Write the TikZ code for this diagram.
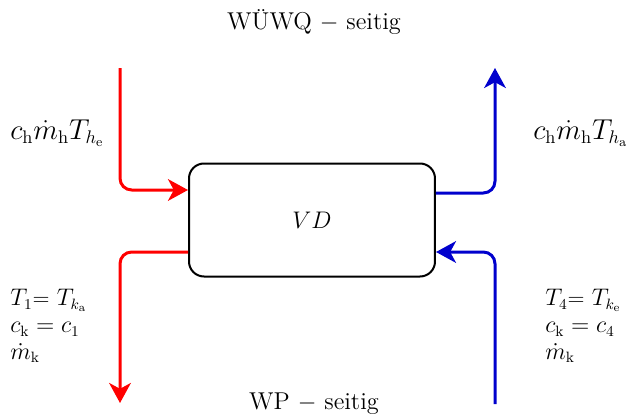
\documentclass[tikz,border=0pt]{standalone}
\usepackage{amsmath,amssymb}
\usepackage{xcolor}
\usepackage{tikz}
\usetikzlibrary{calc,arrows.meta,positioning}
\definecolor{hotred}{RGB}{255,0,0}
\definecolor{coldblue}{RGB}{0,0,205}

\begin{document}
\begin{tikzpicture}[x=0.6pt,y=-0.6pt,>={Stealth[length=12pt,width=13pt,inset=3.5pt]},
    font=\fontsize{14.6}{15.6}\selectfont,
    hot/.style={draw=hotred,line width=1.8pt,rounded corners=7pt},
    cold/.style={draw=coldblue,line width=1.8pt,rounded corners=7pt},
    lbl/.style={align=left,inner sep=0pt,anchor=west,font=\fontsize{16}{17}\selectfont},
    klbl/.style={lbl,font=\fontsize{13.4}{16}\selectfont}]
    \useasboundingbox (0,0) rectangle (628,416);
    % Verdichter
    \node[draw,line width=1.2pt,rounded corners=9pt,minimum width=147.6pt,minimum height=67.8pt] (vd) at (312,220) {$VD$};
    \node (top) at (314,22) {WÜWQ $-$ seitig};
    \node (bot) at (314,404) {WP $-$ seitig};
    % freie Enden
    \coordinate (hin)  at (120,68);
    \coordinate (hout) at (120,403);
    \coordinate (cout) at (495,68);
    \coordinate (cin)  at (495,404);
    % Stroeme
    \draw[hot,->]  (hin) |- ($(vd.west)+(0,-30)$);
    \draw[hot,->]  ($(vd.west)+(0,32)$) -| (hout);
    \draw[cold,->] ($(vd.east)+(0,-27)$) -| (cout);
    \draw[cold,->] (cin) |- ($(vd.east)+(0,32)$);
    % Beschriftung
    \node[lbl] (hl) at (10,133) {$c_{\mathrm{h}}\dot{m}_{\mathrm{h}}T_{h_{\mathrm{e}}}$};
    \node[lbl] (hr) at (533,133) {$c_{\mathrm{h}}\dot{m}_{\mathrm{h}}T_{h_{\mathrm{a}}}$};
    \node[klbl] (kl) at (10,326) {$T_1$= $T_{k_{\mathrm{a}}}$\\ $c_{\mathrm{k}}=c_1$\\ $\dot{m}_{\mathrm{k}}$};
    \node[klbl] (kr) at (545,326) {$T_4$= $T_{k_{\mathrm{e}}}$\\ $c_{\mathrm{k}}=c_4$\\ $\dot{m}_{\mathrm{k}}$};
\end{tikzpicture}
\end{document}
